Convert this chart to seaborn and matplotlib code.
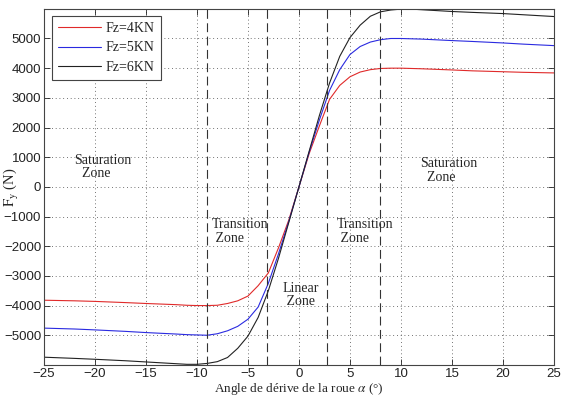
import numpy as np
import pandas as pd
import matplotlib
matplotlib.use('Agg')
import matplotlib.pyplot as plt
import seaborn as sns

# valeurs
alpha = [-25, -22, -20, -17, -15, -12, -11, -10, -9, -8, -7, -6, -5, -4, -3, -2, -1,
         0, 1, 2, 3, 4, 5, 6, 7, 8, 9, 10, 11, 12, 15, 17, 20, 22, 25]

fy_4kn = [-3820, -3840, -3860, -3900, -3930, -3970, -3990, -4000, -4000, -3990, -3930,
          -3840, -3680, -3330, -2900, -2050, -1120,
          0, 1120, 2050, 2950, 3420, 3710, 3870, 3950, 3990, 4000, 4000, 3990, 3980,
          3940, 3910, 3880, 3860, 3840]
fy_5kn = [-4760, -4790, -4820, -4870, -4910, -4960, -4980, -4990, -5000, -4950, -4850,
          -4700, -4460, -4050, -3250, -2250, -1170,
          0, 1170, 2250, 3250, 3950, 4460, 4730, 4880, 4960, 5000, 5000, 4990, 4980,
          4930, 4900, 4850, 4810, 4760]
fy_6kn = [-5740, -5780, -5810, -5860, -5900, -5960, -5980, -5980, -5950, -5890, -5750,
          -5440, -5030, -4400, -3500, -2400, -1200,
          0, 1200, 2400, 3500, 4400, 5030, 5450, 5750, 5900, 5960, 5990, 5990, 5970,
          5910, 5880, 5840, 5800, 5740]

labels = ['Fz=4KN', 'Fz=5KN', 'Fz=6KN']
couleurs = ['#e02a2a', '#2a2ae0', '#222222']

zones_x = [-9.0, -3.1, 2.75, 7.9]
zones_txt = ['Saturation\n  Zone', 'Transition\n Zone', 'Linear\n Zone',
             'Transition\n Zone', 'Saturation\n  Zone']
zones_pos = [(-22.0, 1120), (-8.5, -1050), (-1.6, -3200), (3.7, -1050), (11.9, 1000)]

df = pd.DataFrame({
    'alpha': alpha * 3,
    'Fy': fy_4kn + fy_5kn + fy_6kn,
    'Fz': [labels[0]] * len(alpha) + [labels[1]] * len(alpha) + [labels[2]] * len(alpha),
})

sns.set_style('ticks')
plt.rcParams['font.family'] = ['Liberation Sans', 'DejaVu Sans']
plt.rcParams['mathtext.fontset'] = 'stix'

fig = plt.figure(figsize=(5.63, 4.01), dpi=100)
ax = fig.add_axes([0.078, 0.09, 0.906, 0.888])

sns.lineplot(data=df, x='alpha', y='Fy', hue='Fz', palette=couleurs,
             linewidth=0.8, ax=ax, sort=False, legend=True)

for xv in zones_x:
    ax.axvline(xv, color='#333333', linestyle=(0, (8, 4)), linewidth=0.8)

serif = ['Liberation Serif', 'DejaVu Serif']
for txt, (xt, yt) in zip(zones_txt, zones_pos):
    ax.text(xt, yt, txt, family=serif, fontsize=10, ha='left', va='top',
            linespacing=1.05)

ax.set_xlim(-25, 25)
ax.set_ylim(-6000, 6000)
ax.set_xticks(np.arange(-25, 26, 5))
ax.set_yticks(np.arange(-5000, 5001, 1000))
ax.grid(True, color='#444444', linestyle=(0, (1, 3.5)), linewidth=0.6)
ax.tick_params(direction='in', top=True, right=True, length=4, width=0.6,
               pad=2, labelsize=9.5, colors='#222222')
for sp in ax.spines.values():
    sp.set_linewidth(0.8)
    sp.set_color('#444444')

ax.set_xlabel('Angle de dérive de la roue $\\alpha$ (°)', family=serif,
              fontsize=9.5, labelpad=1)
ax.set_ylabel('$\\mathrm{F_y}$ (N)', family=serif, fontsize=10.5)
ax.yaxis.set_label_coords(-0.045, 0.5)

handles, _ = ax.get_legend_handles_labels()
leg = ax.legend(handles, labels, loc='upper left', bbox_to_anchor=(0.015, 0.98),
                borderaxespad=0, fancybox=False, edgecolor='#444444', framealpha=1,
                prop={'family': serif, 'size': 10}, handlelength=3.1,
                handletextpad=0.35, labelspacing=0.45, borderpad=0.45)
leg.get_frame().set_linewidth(0.8)

fig.savefig('out.png', dpi=100)
